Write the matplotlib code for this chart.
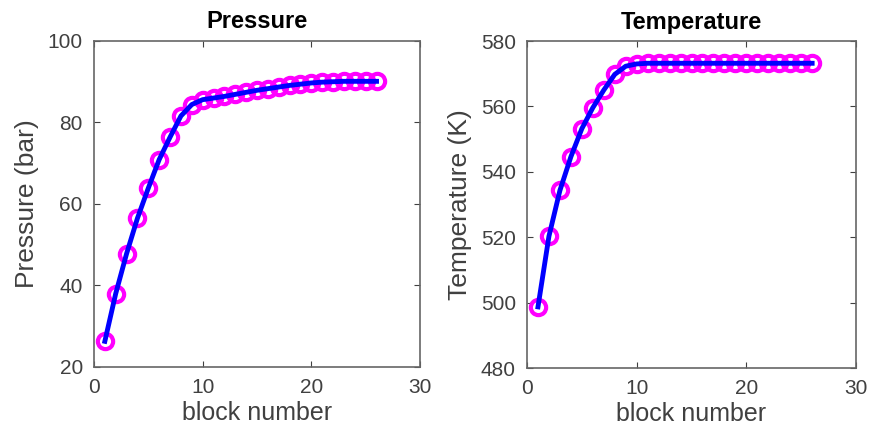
import matplotlib
matplotlib.use("Agg")
import matplotlib.pyplot as plt

blocks = list(range(1, 27))
pressure = [26.3, 38.0, 47.8, 56.5, 63.9, 70.9, 76.4, 81.6, 84.4, 85.6,
            86.0, 86.4, 86.9, 87.4, 87.9, 88.3, 88.7, 89.1, 89.4, 89.7,
            89.9, 90.0, 90.1, 90.1, 90.1, 90.1]
temperature = [498.7, 520.3, 534.3, 544.6, 553.2, 559.6, 565.0, 569.8, 572.3, 573.0,
               573.2, 573.2, 573.2, 573.2, 573.2, 573.2, 573.2, 573.2, 573.2, 573.2,
               573.2, 573.2, 573.2, 573.2, 573.2, 573.2]

plt.rcParams['font.family'] = ['Liberation Sans', 'DejaVu Sans']
grey = '#404040'

fig = plt.figure(figsize=(8.75, 4.47), dpi=100)
ax1 = fig.add_axes([0.1074, 0.179, 0.3726, 0.7293])
ax2 = fig.add_axes([0.6023, 0.1767, 0.376, 0.7315])

panels = [
    (ax1, pressure, 'Pressure', 'Pressure (bar)', (20, 100), [20, 40, 60, 80, 100]),
    (ax2, temperature, 'Temperature', 'Temperature (K)', (480, 580),
     [480, 500, 520, 540, 560, 580]),
]

for ax, vals, title, ylab, ylim, yt in panels:
    ax.plot(blocks, vals, 'o', ms=11, mfc='none', mec='#ff00ff', mew=3)
    ax.plot(blocks, vals, '-', color='#0000ff', lw=3.5)
    ax.set_xlim(0, 30)
    ax.set_ylim(*ylim)
    ax.set_xticks([0, 10, 20, 30])
    ax.set_yticks(yt)
    ax.set_title(title, fontsize=17, fontweight='bold', pad=9)
    ax.set_xlabel('block number', fontsize=18, color=grey, labelpad=3)
    ax.set_ylabel(ylab, fontsize=19, color=grey, labelpad=6)
    ax.tick_params(direction='in', top=True, right=True, labelsize=15,
                   colors=grey, length=4, pad=8)
    for s in ax.spines.values():
        s.set_color('#666666')
        s.set_linewidth(1.2)

fig.savefig('out.png', dpi=100)
